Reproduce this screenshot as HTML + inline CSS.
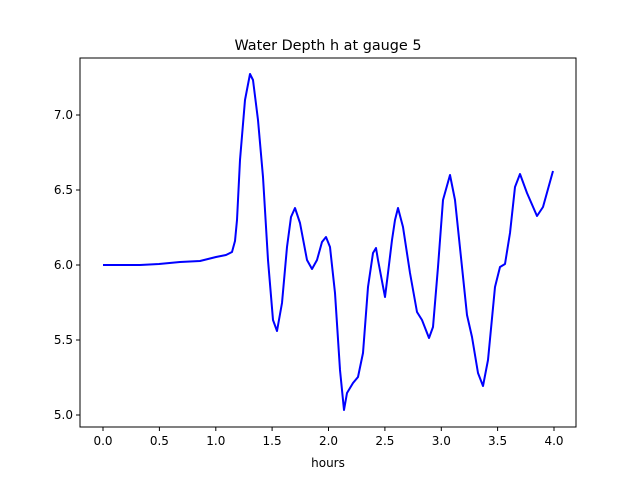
<!DOCTYPE html>
<html><head><meta charset="utf-8"><style>body{margin:0;background:#fff}</style></head><body>
<svg width="640" height="480" viewBox="0 0 640 480" xmlns="http://www.w3.org/2000/svg" font-family="DejaVu Sans, Liberation Sans, sans-serif">
<rect width="640" height="480" fill="#fff"/>
<rect x="80" y="58" width="496" height="369" fill="none" stroke="#000" stroke-width="1"/>
<g stroke="#000" stroke-width="1">
<line x1="103" y1="427" x2="103" y2="431"/><line x1="159.4" y1="427" x2="159.4" y2="431"/><line x1="215.8" y1="427" x2="215.8" y2="431"/><line x1="272.1" y1="427" x2="272.1" y2="431"/><line x1="328.5" y1="427" x2="328.5" y2="431"/><line x1="384.9" y1="427" x2="384.9" y2="431"/><line x1="441.3" y1="427" x2="441.3" y2="431"/><line x1="497.6" y1="427" x2="497.6" y2="431"/><line x1="554" y1="427" x2="554" y2="431"/>
<line x1="76" y1="115" x2="80" y2="115"/><line x1="76" y1="190" x2="80" y2="190"/><line x1="76" y1="265" x2="80" y2="265"/><line x1="76" y1="340" x2="80" y2="340"/><line x1="76" y1="415" x2="80" y2="415"/>
</g>
<g font-size="12" fill="#000" text-anchor="middle">
<text x="103" y="445">0.0</text><text x="159.4" y="445">0.5</text><text x="215.8" y="445">1.0</text><text x="272.1" y="445">1.5</text><text x="328.5" y="445">2.0</text><text x="384.9" y="445">2.5</text><text x="441.3" y="445">3.0</text><text x="497.6" y="445">3.5</text><text x="554" y="445">4.0</text>
<text x="328" y="467">hours</text>
</g>
<g font-size="12" fill="#000" text-anchor="end">
<text x="73" y="119">7.0</text><text x="73" y="194">6.5</text><text x="73" y="269">6.0</text><text x="73" y="344">5.5</text><text x="73" y="419">5.0</text>
</g>
<text x="328" y="50" font-size="14.4" text-anchor="middle">Water Depth h at gauge 5</text>
<polyline fill="none" stroke="#0000ff" stroke-width="2" stroke-linejoin="round" points="103,265 140,265 159,264 180,262 200,261 208,259 216,257 226,255 232,252 235,241 237,220 240,160 245,100 250,74 253,80 258,120 263,177 268,260 273,320 277,331 282,303 287,247 291,217 295,208 300,223 307,260 312,269 317,260 322,242 326,237 330,247 335,293 340,370 344,410 347,393 353,383 358,377 363,353 368,287 373,253 376,248 378,260 385,297 388,273 392,240 395,220 398,208 403,227 410,273 417,312 422,320 429,338 433,327 438,267 443,200 450,175 455,200 462,267 467,315 472,337 478,373 483,386 488,360 495,287 500,267 505,264 510,233 515,187 520,174 527,193 537,216 543,207 553,171"/>
</svg>
</body></html>
